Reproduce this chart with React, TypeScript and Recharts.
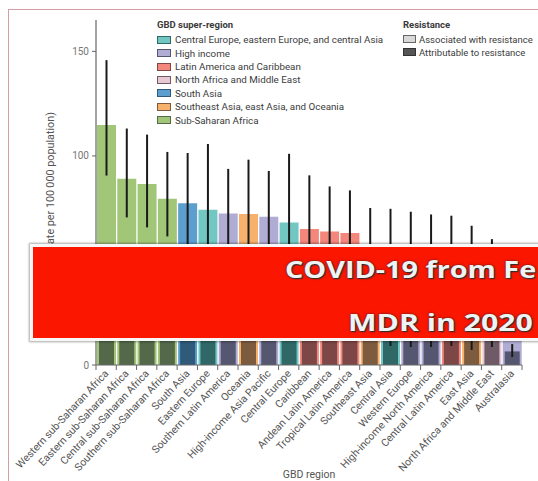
import React from "react";
import { BarChart, Bar, XAxis, YAxis, Cell, ErrorBar } from "recharts";

const regions = [
  "Western sub-Saharan Africa",
  "Eastern sub-Saharan Africa",
  "Central sub-Saharan Africa",
  "Southern sub-Saharan Africa",
  "South Asia",
  "Eastern Europe",
  "Southern Latin America",
  "Oceania",
  "High-income Asia Pacific",
  "Central Europe",
  "Caribbean",
  "Andean Latin America",
  "Tropical Latin America",
  "Southeast Asia",
  "Central Asia",
  "Western Europe",
  "High-income North America",
  "Central Latin America",
  "East Asia",
  "North Africa and Middle East",
  "Australasia",
];

// index into superRegions
const superRegionOfRegion = [6, 6, 6, 6, 4, 0, 1, 5, 1, 0, 2, 2, 2, 5, 0, 1, 1, 2, 5, 3, 1];

const associated = [114.8, 89.1, 86.6, 79.5, 77.3, 74.3, 72.5, 72.2, 70.9, 68.2, 65.0, 63.9, 63.1, 56.0, 55.0, 54.0, 53.0, 52.0, 48.0, 44.0, 28.0];
const associatedLow = [90.6, 70.6, 65.8, 61.5, 55, 52, 54, 49, 53, 46, 47, 46, 47, 43, 41, 42, 41, 39, 36, 30, 21];
const associatedHigh = [145.8, 113.1, 110.2, 101.9, 101.4, 105.7, 93.8, 98.2, 92.8, 101.0, 90.7, 85.4, 83.5, 75.1, 74.7, 73.3, 72.0, 71.4, 66.6, 60.2, 36];

const attributable = [27.3, 22.0, 23.0, 20.5, 21.5, 18.0, 16.5, 17.0, 15.5, 16.0, 15.0, 14.5, 15.5, 14.0, 13.5, 12.5, 12.5, 13.0, 12.0, 13.0, 6.5];
const attributableLow = [20, 16, 16, 15, 16, 13, 13, 13, 13, 13, 13, 13, 13, 12.5, 9.1, 8.6, 8.6, 9.1, 7.2, 8.6, 3.8];
const attributableHigh = [35, 29, 31, 27, 28, 24, 21, 23, 20, 21, 19, 19, 20, 19, 19, 17, 17, 18, 17, 18, 10];

const superRegions = [
  "Central Europe, eastern Europe, and central Asia",
  "High income",
  "Latin America and Caribbean",
  "North Africa and Middle East",
  "South Asia",
  "Southeast Asia, east Asia, and Oceania",
  "Sub-Saharan Africa",
];
const lightColors = ["#72c7c2", "#b1acd4", "#f3877b", "#e7c8d3", "#5c9fcf", "#f6b26c", "#a2c678"];
const darkColors = ["#2f6867", "#55566f", "#7c4746", "#6f5a67", "#2f5a7a", "#7c5b3f", "#53694a"];

const resistanceLabels = ["Associated with resistance", "Attributable to resistance"];
const resistanceFill = ["#d8d8d8", "#555555"];
const resistanceBorder = ["#666666", "#333333"];

const yTicks = [0, 50, 100, 150];
const yLabel = "Deaths (rate per 100\u2009000 population)";
const xTitle = "GBD region";
const bannerLines = ["COVID-19 from Fe", "MDR in 2020"];

const rows = regions.map((r, i) => ({
  region: r,
  sr: superRegionOfRegion[i],
  associated: associated[i],
  attributable: attributable[i],
  assocErr: [associated[i] - associatedLow[i], associatedHigh[i] - associated[i]],
  attribErr: [attributable[i] - attributableLow[i], attributableHigh[i] - attributable[i]],
}));

const FONT = "Roboto, 'Noto Sans', sans-serif";

const XTick = (props: any) => {
  const { x, y, payload, index, visibleTicksCount, width } = props;
  const band = width && visibleTicksCount ? width / visibleTicksCount : 20.3;
  const left = x - band / 2;
  const ax = x + 3;
  const ay = y + 9;
  return (
    <g>
      <line x1={left} y1={y} x2={left} y2={y + 5} stroke="#666" strokeWidth={1} />
      {index === visibleTicksCount - 1 && (
        <line x1={x + band / 2} y1={y} x2={x + band / 2} y2={y + 5} stroke="#666" strokeWidth={1} />
      )}
      <text
        x={ax}
        y={ay}
        textAnchor="end"
        transform={`rotate(-47 ${ax} ${ay})`}
        fontSize={10.5}
        fill="#555"
        fontFamily={FONT}
      >
        {payload.value}
      </text>
    </g>
  );
};

export default function App() {
  return (
    <div
      style={{
        position: "absolute",
        left: 0,
        top: 0,
        width: 538,
        height: 481,
        overflow: "hidden",
        background: "#fff",
        fontFamily: FONT,
      }}
    >
      <div
        style={{
          position: "absolute",
          left: 8,
          top: 9,
          width: 560,
          height: 500,
          border: "1.5px solid #d59ea7",
          boxSizing: "border-box",
        }}
      />
      <div style={{ position: "absolute", left: 0, top: 0 }}>
        <BarChart
          width={538}
          height={481}
          data={rows}
          margin={{ top: 20, right: 16, bottom: 0, left: 0 }}
        >
          <XAxis
            xAxisId="a"
            dataKey="region"
            interval={0}
            height={116}
            tickLine={false}
            tickSize={0}
            tickMargin={0}
            axisLine={{ stroke: "#666", strokeWidth: 1.2 }}
            tick={<XTick />}
            label={{
              value: xTitle,
              position: "insideBottom",
              offset: 3,
              fill: "#555",
              fontSize: 10.5,
              fontFamily: FONT,
            }}
          />
          <XAxis xAxisId="b" dataKey="region" hide />
          <YAxis
            width={96}
            domain={[0, 165]}
            ticks={yTicks}
            tickSize={4}
            tickMargin={3}
            allowDataOverflow
            axisLine={{ stroke: "#666", strokeWidth: 1.2 }}
            tickLine={{ stroke: "#666" }}
            tick={{ fill: "#777", fontSize: 10, fontFamily: FONT }}
          />
          <Bar xAxisId="a" dataKey="associated" barSize={19} isAnimationActive={false}>
            {rows.map((r, i) => (
              <Cell key={i} fill={lightColors[r.sr]} />
            ))}
            <ErrorBar dataKey="assocErr" width={0} strokeWidth={2} stroke="#1a1a1a" direction="y" />
          </Bar>
          <Bar xAxisId="b" dataKey="attributable" barSize={15} isAnimationActive={false}>
            {rows.map((r, i) => (
              <Cell key={i} fill={darkColors[r.sr]} />
            ))}
            <ErrorBar dataKey="attribErr" width={0} strokeWidth={2} stroke="#1a1a1a" direction="y" />
          </Bar>
        </BarChart>
      </div>

      {/* y-axis title */}
      <div
        style={{
          position: "absolute",
          left: 46,
          top: 112,
          transformOrigin: "0 0",
          transform: "rotate(-90deg) translateX(-100%)",
          whiteSpace: "nowrap",
          fontSize: 10.8,
          lineHeight: "10px",
          color: "#555",
        }}
      >
        {yLabel}
      </div>

      {/* GBD super-region legend */}
      <div
        style={{
          position: "absolute",
          left: 157,
          top: 19,
          fontSize: 9.5,
          lineHeight: "12px",
          fontWeight: 700,
          color: "#3a3a3a",
          whiteSpace: "nowrap",
        }}
      >
        GBD super-region
      </div>
      {superRegions.map((s, i) => (
        <div
          key={s}
          style={{
            position: "absolute",
            left: 157,
            top: 33.7 + 13.4 * i,
            height: 12,
            display: "flex",
            alignItems: "center",
            fontSize: 9.8,
            color: "#3c3c3c",
            whiteSpace: "nowrap",
          }}
        >
          <span
            style={{
              display: "inline-block",
              width: 14,
              height: 8,
              boxSizing: "border-box",
              background: lightColors[i],
              border: `1px solid ${darkColors[i]}`,
              marginRight: 4,
            }}
          />
          {s}
        </div>
      ))}

      {/* Resistance legend */}
      <div
        style={{
          position: "absolute",
          left: 403,
          top: 18.5,
          fontSize: 9.5,
          lineHeight: "12px",
          fontWeight: 700,
          color: "#3a3a3a",
          whiteSpace: "nowrap",
        }}
      >
        Resistance
      </div>
      {resistanceLabels.map((s, i) => (
        <div
          key={s}
          style={{
            position: "absolute",
            left: 403,
            top: 33.3 + 13 * i,
            height: 12,
            display: "flex",
            alignItems: "center",
            fontSize: 9.5,
            color: "#3c3c3c",
            whiteSpace: "nowrap",
          }}
        >
          <span
            style={{
              display: "inline-block",
              width: 13,
              height: 8,
              boxSizing: "border-box",
              background: resistanceFill[i],
              border: `1px solid ${resistanceBorder[i]}`,
              marginRight: 3,
            }}
          />
          {s}
        </div>
      ))}

      {/* red banner */}
      <div
        style={{
          position: "absolute",
          left: 30,
          top: 244,
          width: 560,
          height: 97,
          boxSizing: "border-box",
          background: "#fb1600",
          border: "3px solid #f7f7f7",
          boxShadow: "0 0 2px 1px rgba(0,0,0,0.35)",
        }}
      />
      {bannerLines.map((t, i) => (
        <div
          key={t}
          style={{
            position: "absolute",
            left: i === 0 ? 285 : 348,
            top: i === 0 ? 257 : 310,
            fontFamily: "'Open Sans', sans-serif",
            fontWeight: 700,
            fontSize: 24,
            lineHeight: "24px",
            color: "#eef3f3",
            whiteSpace: "nowrap",
            transformOrigin: "0 0",
            transform: i === 0 ? "scaleX(1.2)" : "scaleX(1.26)",
            textShadow: "0 0 2px #222, 1px 1px 1px #333",
          }}
        >
          {t}
        </div>
      ))}
    </div>
  );
}
